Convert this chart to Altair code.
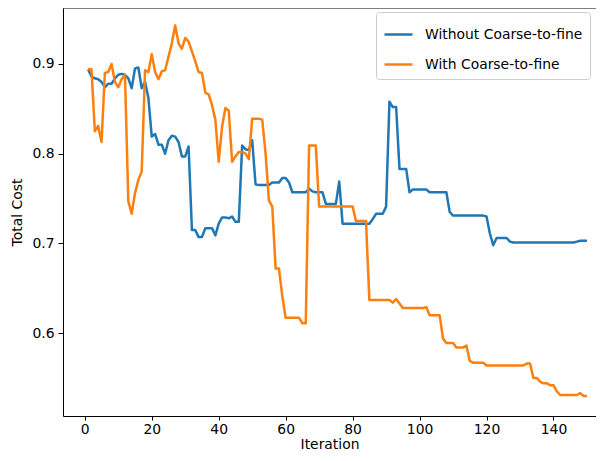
import altair as alt
import pandas as pd

iterations = list(range(1, 151))

without_c2f = [
    0.894, 0.886, 0.884, 0.883, 0.880, 0.874, 0.878, 0.878, 0.884, 0.888,
    0.889, 0.888, 0.884, 0.873, 0.895, 0.896, 0.873, 0.880, 0.862, 0.819,
    0.822, 0.810, 0.810, 0.800, 0.815, 0.820, 0.819, 0.813, 0.797, 0.797,
    0.808, 0.715, 0.715, 0.707, 0.707, 0.717, 0.717, 0.717, 0.709, 0.722,
    0.729, 0.729, 0.728, 0.730, 0.724, 0.724, 0.809, 0.805, 0.804, 0.815,
    0.766, 0.765, 0.765, 0.765, 0.765, 0.768, 0.768, 0.768, 0.773, 0.773,
    0.768, 0.757, 0.757, 0.757, 0.757, 0.757, 0.761, 0.758, 0.757, 0.757,
    0.757, 0.744, 0.744, 0.744, 0.744, 0.769, 0.722, 0.722, 0.722, 0.722,
    0.722, 0.722, 0.722, 0.722, 0.722, 0.727, 0.733, 0.733, 0.733, 0.741,
    0.858, 0.852, 0.852, 0.783, 0.783, 0.783, 0.757, 0.760, 0.760, 0.760,
    0.760, 0.760, 0.757, 0.757, 0.757, 0.757, 0.757, 0.757, 0.735, 0.731,
    0.731, 0.731, 0.731, 0.731, 0.731, 0.731, 0.731, 0.731, 0.731, 0.730,
    0.711, 0.698, 0.706, 0.706, 0.706, 0.706, 0.702, 0.701, 0.701, 0.701,
    0.701, 0.701, 0.701, 0.701, 0.701, 0.701, 0.701, 0.701, 0.701, 0.701,
    0.701, 0.701, 0.701, 0.701, 0.701, 0.701, 0.702, 0.703, 0.703, 0.703,
]

with_c2f = [
    0.894, 0.894, 0.825, 0.831, 0.813, 0.890, 0.891, 0.900, 0.880, 0.874,
    0.883, 0.888, 0.747, 0.733, 0.756, 0.771, 0.780, 0.893, 0.891, 0.911,
    0.891, 0.883, 0.892, 0.893, 0.908, 0.923, 0.943, 0.923, 0.917, 0.929,
    0.925, 0.914, 0.903, 0.891, 0.890, 0.868, 0.866, 0.854, 0.838, 0.791,
    0.830, 0.851, 0.848, 0.791, 0.797, 0.802, 0.802, 0.800, 0.794, 0.839,
    0.839, 0.839, 0.838, 0.800, 0.748, 0.741, 0.672, 0.672, 0.641, 0.617,
    0.617, 0.617, 0.617, 0.617, 0.611, 0.611, 0.809, 0.809, 0.809, 0.741,
    0.741, 0.741, 0.741, 0.741, 0.741, 0.741, 0.741, 0.741, 0.741, 0.741,
    0.725, 0.725, 0.725, 0.725, 0.637, 0.637, 0.637, 0.637, 0.637, 0.637,
    0.637, 0.634, 0.638, 0.633, 0.628, 0.628, 0.628, 0.628, 0.628, 0.628,
    0.628, 0.629, 0.620, 0.620, 0.620, 0.620, 0.594, 0.589, 0.589, 0.589,
    0.584, 0.584, 0.584, 0.586, 0.569, 0.567, 0.567, 0.567, 0.567, 0.564,
    0.564, 0.564, 0.564, 0.564, 0.564, 0.564, 0.564, 0.564, 0.564, 0.564,
    0.564, 0.566, 0.566, 0.550, 0.550, 0.546, 0.544, 0.544, 0.542, 0.542,
    0.535, 0.531, 0.531, 0.531, 0.531, 0.531, 0.531, 0.533, 0.530, 0.530,
]

series_names = ["Without Coarse-to-fine", "With Coarse-to-fine"]
series_colors = ["#1f77b4", "#ff7f0e"]
x_ticks = [0, 20, 40, 60, 80, 100, 120, 140]
y_ticks = [0.6, 0.7, 0.8, 0.9]

df = pd.concat([
    pd.DataFrame({"Iteration": iterations, "Cost": without_c2f, "Series": series_names[0]}),
    pd.DataFrame({"Iteration": iterations, "Cost": with_c2f, "Series": series_names[1]}),
])

FONT = "DejaVu Sans"
FS = 13.9
W, H = 533, 408

lines = alt.Chart(df).mark_line(strokeWidth=2.5, strokeJoin="round").encode(
    x=alt.X("Iteration:Q",
            scale=alt.Scale(domain=[-6.51, 152.7], nice=False, zero=False),
            axis=alt.Axis(values=x_ticks, title="Iteration", format="d",
                          tickSize=4, labelPadding=2, titlePadding=2)),
    y=alt.Y("Cost:Q",
            scale=alt.Scale(domain=[0.5076, 0.9624], nice=False, zero=False),
            axis=alt.Axis(values=y_ticks, title="Total Cost", format=".1f",
                          tickSize=5, labelPadding=4, titlePadding=7)),
    color=alt.Color("Series:N",
                    scale=alt.Scale(domain=series_names, range=series_colors),
                    legend=alt.Legend(title=None, orient="none", legendX=313, legendY=4,
                                      symbolType="stroke", symbolStrokeWidth=2.5,
                                      symbolSize=784, labelFont=FONT, labelFontSize=FS,
                                      labelColor="black", labelOffset=11, rowPadding=7,
                                      padding=7, strokeColor="#cccccc", fillColor="white",
                                      cornerRadius=3)),
)

top_frame = alt.Chart(pd.DataFrame({"f": [0]})).mark_rule(color="black", strokeWidth=1).encode(
    x=alt.value(0), x2=alt.value(W), y=alt.value(0)
)

chart = alt.layer(lines, top_frame).properties(
    width=W,
    height=H,
    autosize=alt.AutoSizeParams(type="none"),
    padding={"left": 55, "top": 0, "right": 0, "bottom": 37},
).configure_view(
    stroke=None
).configure_axis(
    grid=False,
    domainColor="black",
    tickColor="black",
    labelFont=FONT,
    labelFontSize=FS,
    labelColor="black",
    titleFont=FONT,
    titleFontSize=FS,
    titleFontWeight="normal",
    titleColor="black",
)

chart.save("out.html", embed_options={"renderer": "svg", "actions": False})
